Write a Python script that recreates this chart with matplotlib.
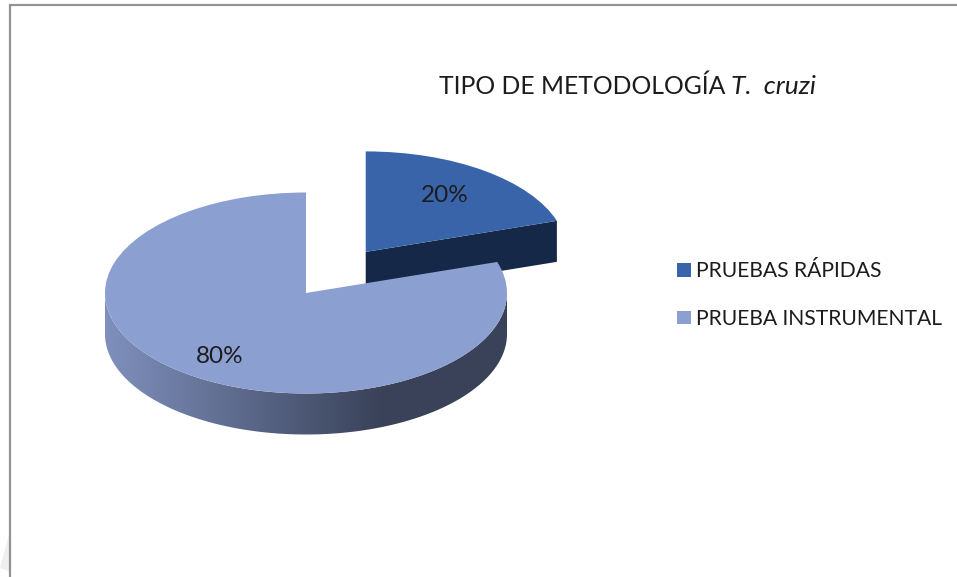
import numpy as np
import matplotlib
matplotlib.use('Agg')
import matplotlib.pyplot as plt
from matplotlib.colors import LinearSegmentedColormap
from matplotlib.patches import Polygon

labels = ['PRUEBAS RÁPIDAS', 'PRUEBA INSTRUMENTAL']
values = [20, 80]
colors = ['#3a64aa', '#8c9fd1']
title = 'TIPO DE METODOLOGÍA'
title_it = 'T.  cruzi'

W, H = 957, 577
plt.rcParams['font.family'] = ['Lato', 'DejaVu Sans']


def py(y):
    # pixel row -> data y; y data runs at 2 units per pixel, which squashes the pie to a 2:1 ellipse
    return (H - y) * 2


cx, cy, rad, depth = 306, 293, 201, 41

fig = plt.figure(figsize=(W / 100, H / 100), dpi=100)
ax = fig.add_axes([0, 0, 1, 1])

# explode is in data units here, not a fraction of the radius
wedges, _, pcts = ax.pie(values, colors=colors, startangle=90, counterclock=False,
                         explode=[101.6, 0], center=(cx, py(cy)), radius=rad, frame=True,
                         autopct='%d%%', pctdistance=0.72,
                         wedgeprops={'linewidth': 0},
                         textprops={'fontsize': 17.5, 'color': '#1c1c1c'})
ax.set_aspect('auto')
wedges[0].set_zorder(2)
wedges[1].set_zorder(4)
for t in pcts:
    t.set_zorder(5)
# nudge the percent labels, offsets in data units
for t, (dx, dy) in zip(pcts, [(-6, -4), (-1, -10)]):
    px, pz = t.get_position()
    t.set_position((px + dx, pz + dy))

# cut face of the pulled out slice
ang = 2 * np.pi * values[0] / sum(values)
sx, sy = wedges[0].center
tx, ty = sx + rad * np.sin(ang), sy + rad * np.cos(ang)
ax.add_patch(Polygon([(sx, sy), (tx, ty), (tx, ty - depth * 2), (sx, sy - depth * 2)],
                     closed=True, fc='#162847', ec='none', zorder=1))

# side wall of the big slice, horizontal gradient clipped to the band
t = np.linspace(np.pi / 2, 3 * np.pi / 2, 200)
ex = cx + rad * np.sin(t)
ey = py(cy) + rad * np.cos(t)
band = np.vstack([np.column_stack([ex, ey]),
                  np.column_stack([ex[::-1], ey[::-1] - depth * 2])])
clip = Polygon(band, closed=True, fc='none', ec='none', transform=ax.transData)
ax.add_patch(clip)
cmap = LinearSegmentedColormap.from_list('side', [(0, '#7f90bd'), (0.69, '#394258'), (1, '#394258')])
im = ax.imshow(np.linspace(0, 1, 256).reshape(1, -1), cmap=cmap, aspect='auto', zorder=3,
               extent=[cx - rad, cx + rad, py(cy + 160), py(cy - 20)])
im.set_clip_path(clip)

# chart frame, only top and left show in the crop
ax.plot([10, 10, W], [py(H), py(5), py(5)], color='#929292', lw=1.6, solid_joinstyle='miter', zorder=6)
ax.add_patch(Polygon([(0, py(568)), (9, py(535)), (9, py(571))], closed=True, fc='#efefef', ec='none'))

ax.text(439, py(94), title, fontsize=17.8, color='#1c1c1c', va='baseline', ha='left')
ax.text(731, py(94), title_it, fontsize=19, style='italic', color='#1c1c1c', va='baseline', ha='left')

ax.legend(wedges, labels, loc='upper left', bbox_to_anchor=(669 / W, 1 - 253 / H), frameon=False,
          fontsize=15.2, labelspacing=1.3, handlelength=0.62, handleheight=0.62, handletextpad=0.26,
          borderpad=0.4, borderaxespad=0, labelcolor='#1c1c1c')

ax.set_xlim(0, W)
ax.set_ylim(0, H * 2)
ax.axis('off')
fig.savefig('out.png', dpi=100, facecolor='white')
